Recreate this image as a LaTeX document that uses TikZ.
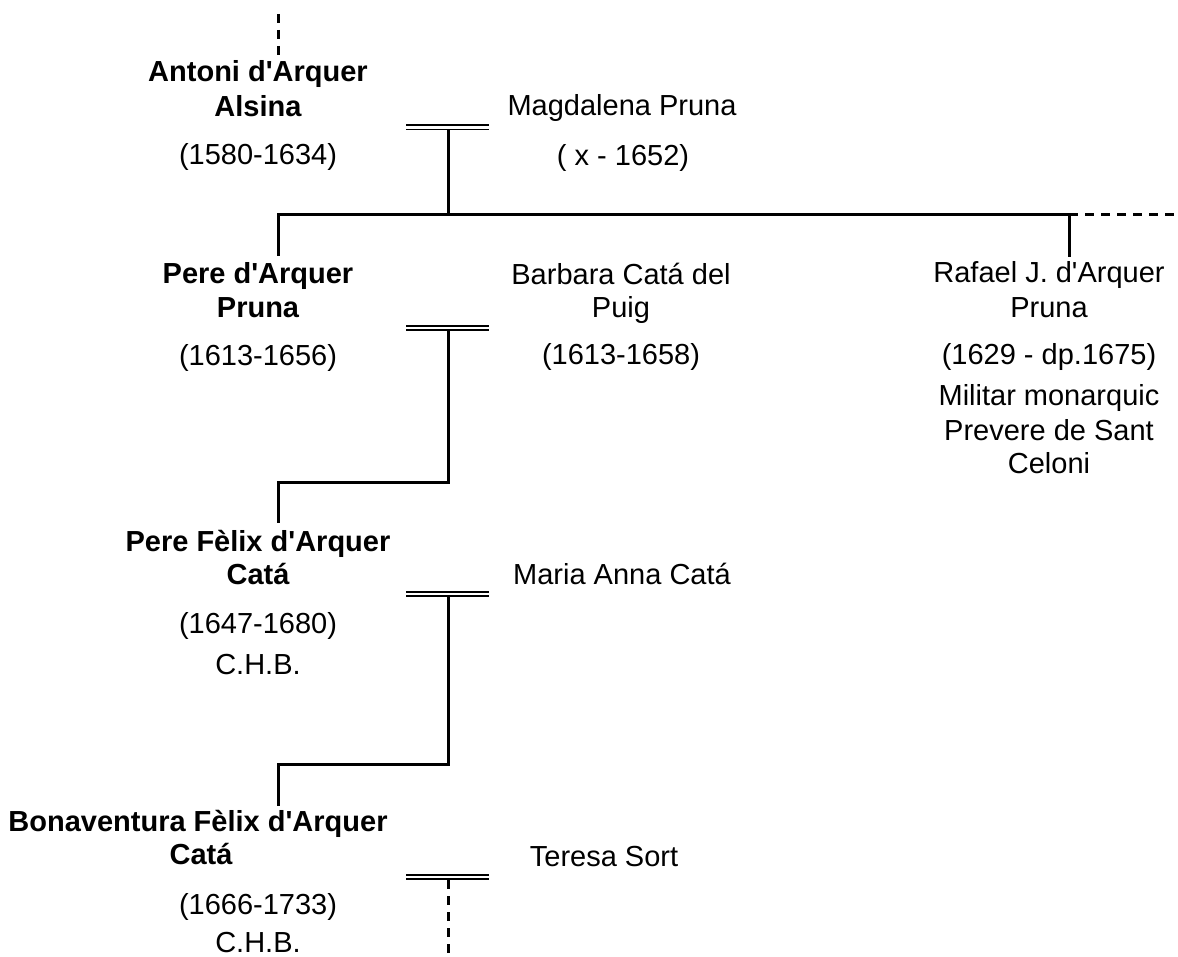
\documentclass[tikz,border=0pt]{standalone}
\usepackage{fontspec}
\setmainfont{Liberation Sans}[Ligatures=TeXOff]
\begin{document}
\begin{tikzpicture}[x=1pt,y=-1pt,
  every node/.style={inner sep=0pt,outer sep=0pt,font=\fontsize{29}{34}\selectfont},
  nm/.style={anchor=base,font=\fontsize{29}{34}\selectfont\bfseries},
  tx/.style={anchor=base},
  conn/.style={line width=3pt,line join=miter},
  dconn/.style={line width=3pt,dash pattern=on 9pt off 7pt},
  wed/.style={double,double distance=2.8pt,line width=1.5pt}]
\useasboundingbox (0,0) rectangle (1178,957);

% ---------- generation 1
\node[nm] (antoni1) at (258,82) {Antoni d'Arquer};
\node[nm] (antoni2) at (258,117) {Alsina};
\node[tx] (antonid) at (258,165) {(1580-1634)};
\node[tx] (magda1) at (622,116) {Magdalena Pruna};
\node[tx] (magdad) at (623,166) {( x - 1652)};

% ---------- generation 2
\node[nm] (pere1) at (258,284) {Pere d'Arquer};
\node[nm] (pere2) at (258,318) {Pruna};
\node[tx] (pered) at (258,366) {(1613-1656)};
\node[tx] (barb1) at (621,285) {Barbara Catá del};
\node[tx] (barb2) at (621,318) {Puig};
\node[tx] (barbd) at (621,365) {(1613-1658)};
\node[tx] (raf1) at (1049,283) {Rafael J. d'Arquer};
\node[tx] (raf2) at (1049,318) {Pruna};
\node[tx] (rafd) at (1049,365) {(1629 - dp.1675)};
\node[tx] (raf3) at (1049,406) {Militar monarquic};
\node[tx] (raf4) at (1049,440) {Prevere de Sant};
\node[tx] (raf5) at (1049,473) {Celoni};

% ---------- generation 3
\node[nm] (pf1) at (258,551) {Pere Fèlix d'Arquer};
\node[nm] (pf2) at (258,584) {Catá};
\node[tx] (pfd) at (258,633) {(1647-1680)};
\node[tx] (pfc) at (258,674) {C.H.B.};
\node[tx] (maria) at (622,584) {Maria Anna Catá};

% ---------- generation 4
\node[nm] (bon1) at (198,831) {Bonaventura Fèlix d'Arquer};
\node[nm] (bon2) at (201,864) {Catá};
\node[tx] (bond) at (258,914) {(1666-1733)};
\node[tx] (bonc) at (258,952) {C.H.B.};
\node[tx] (teresa) at (604,866) {Teresa Sort};

% ---------- coordinates
\coordinate (top0) at (278,14);
\coordinate (top1) at (278,56);
\coordinate (w1a) at (406,127.3); \coordinate (w1b) at (489,127.3);
\coordinate (d1) at (448,130);
\coordinate (bar1) at (448,215);
\coordinate (k1a) at (278,256);
\coordinate (k1b) at (1069,257);
\coordinate (e1) at (1178,215);
\coordinate (w2a) at (406,328); \coordinate (w2b) at (489,328);
\coordinate (d2) at (448,331);
\coordinate (bar2) at (448,482);
\coordinate (k2) at (278,523);
\coordinate (w3a) at (406,594); \coordinate (w3b) at (489,594);
\coordinate (d3) at (448,597);
\coordinate (bar3) at (448,764);
\coordinate (k3) at (278,806);
\coordinate (w4a) at (406,877); \coordinate (w4b) at (489,877);
\coordinate (d4) at (448,880);
\coordinate (e4) at (448,957);

% ---------- lines
\draw[dconn] (top0) -- (top1);
\draw[wed] (w1a) -- (w1b);
\draw[conn] (d1) -- (bar1);
\draw[conn] (k1a) -- (k1a |- bar1) -- (k1b |- bar1) -- (k1b);
\draw[dconn] (k1b |- bar1) -- (e1);

\draw[wed] (w2a) -- (w2b);
\draw[conn] (d2) -- (bar2) -- (k2 |- bar2) -- (k2);

\draw[wed] (w3a) -- (w3b);
\draw[conn] (d3) -- (bar3) -- (k3 |- bar3) -- (k3);

\draw[wed] (w4a) -- (w4b);
\draw[dconn] (d4) -- (e4);
\end{tikzpicture}
\end{document}
